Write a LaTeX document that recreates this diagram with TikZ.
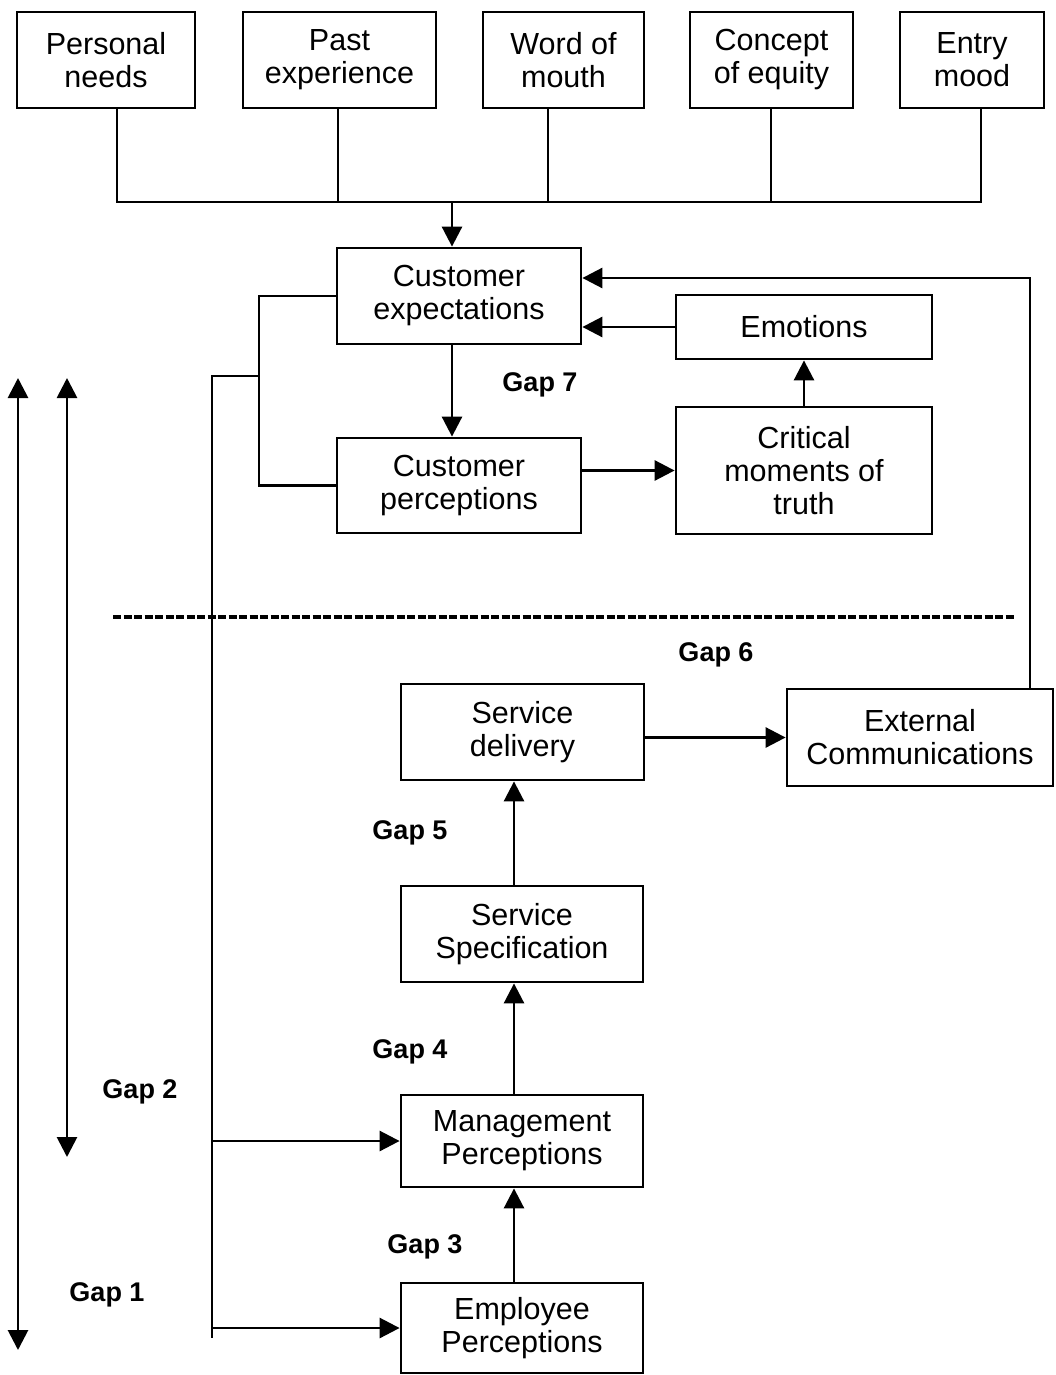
\documentclass[tikz,border=0pt]{standalone}
\usepackage{fontspec}
\setmainfont{Liberation Sans}
\usetikzlibrary{arrows.meta}
\tikzset{
  box/.style={draw, line width=2.8pt, align=center, inner sep=0pt,
    font=\fontsize{30.5}{33}\selectfont},
  link/.style={line width=2.8pt},
  arr/.style={line width=2.8pt, -{Triangle[length=20pt,width=20pt]}},
  darr/.style={line width=2.8pt, {Triangle[length=20pt,width=20pt]}-{Triangle[length=20pt,width=20pt]}},
  gap/.style={font=\fontsize{27}{30}\selectfont\bfseries, inner sep=0pt},
}
\begin{document}
\begin{tikzpicture}[x=1pt,y=-1pt]
\useasboundingbox (0,0) rectangle (1055,1375);

% antecedents of expectations
\node[box, minimum width=178pt, minimum height=96pt] (pn) at (106,60) {Personal\\needs};
\node[box, minimum width=193pt, minimum height=96pt] (pe) at (339.5,60) {Past\\experience};
\node[box, minimum width=161pt, minimum height=96pt] (wm) at (563.5,60) {Word of\\mouth};
\node[box, minimum width=163pt, minimum height=96pt] (ce) at (771.5,60) {Concept\\of equity};
\node[box, minimum width=144pt, minimum height=96pt] (en) at (972,60) {Entry\\mood};

% customer side
\node[box, minimum width=244pt, minimum height=96pt] (exp) at (459,296) {Customer\\expectations};
\node[box, minimum width=244pt, minimum height=95pt] (per) at (459,485.5) {Customer\\perceptions};
\node[box, minimum width=256pt, minimum height=64pt] (emo) at (804,327) {Emotions};
\node[box, minimum width=256pt, minimum height=127pt] (cmt) at (804,470.5) {Critical\\moments of\\truth};

% provider side
\node[box, minimum width=243pt, minimum height=96pt] (sd) at (522.5,732) {Service\\delivery};
\node[box, minimum width=266pt, minimum height=97pt] (ec) at (920,737.5) {External\\Communications};
\node[box, minimum width=242pt, minimum height=96pt] (ss) at (522,934) {Service\\Specification};
\node[box, minimum width=242pt, minimum height=92pt] (mp) at (522,1141) {Management\\Perceptions};
\node[box, minimum width=242pt, minimum height=90pt] (ep) at (522,1328) {Employee\\Perceptions};

% bus joining the five antecedents
\coordinate (b1) at (117,202);
\coordinate (b2) at (338,202);
\coordinate (b3) at (548,202);
\coordinate (b4) at (771,202);
\coordinate (b5) at (981,202);
\coordinate (bx) at (452,202);
\draw[link] (pn.south -| b1) -- (b1) -- (b5) -- (en.south -| b5);
\draw[link] (pe.south -| b2) -- (b2);
\draw[link] (wm.south -| b3) -- (b3);
\draw[link] (ce.south -| b4) -- (b4);
\draw[arr] (bx) -- (exp.north -| bx);

% expectations / perceptions loop
\coordinate (gx) at (452,0);
\draw[arr] (exp.south -| gx) -- (per.north -| gx);
\draw[arr] (per.east |- cmt.west) -- (cmt.west);
\draw[arr] (cmt.north) -- (emo.south);
\draw[arr] (emo.west) -- (exp.east |- emo.west);

% feedback from external communications
\coordinate (fb) at (1030,278);
\draw[arr] (ec.north -| fb) -- (fb) -- (exp.east |- fb);

% bracket and gap line down the left
\coordinate (brk) at (259,376);
\coordinate (gl) at (212,376);
\coordinate (glb) at (212,1338);
\draw[link] (exp.west) -| (brk) |- (per.west);
\draw[link] (brk) -- (gl) -- (glb);
\draw[arr] (gl |- mp.west) -- (mp.west);
\draw[arr] (gl |- ep.west) -- (ep.west);

% provider chain
\coordinate (cx) at (514,0);
\draw[arr] (ep.north -| cx) -- (mp.south -| cx);
\draw[arr] (mp.north -| cx) -- (ss.south -| cx);
\draw[arr] (ss.north -| cx) -- (sd.south -| cx);
\draw[arr] (sd.east |- ec.west) -- (ec.west);

% line of visibility
\coordinate (d1) at (113,617);
\coordinate (d2) at (1015,617);
\draw[line width=3.2pt, dash pattern=on 8pt off 2.5pt] (d1) -- (d2);

% gap 1 and gap 2 spans
\coordinate (g1t) at (18,378);
\coordinate (g1b) at (18,1350);
\coordinate (g2t) at (67,378);
\coordinate (g2b) at (67,1157);
\draw[darr] (g1t) -- (g1b);
\draw[darr] (g2t) -- (g2b);

% gap labels
\node[gap] (l7) at (540,385) {Gap 7};
\node[gap] (l6) at (716,655) {Gap 6};
\node[gap] (l5) at (410,833) {Gap 5};
\node[gap] (l4) at (410,1052) {Gap 4};
\node[gap] (l3) at (425,1247) {Gap 3};
\node[gap] (l2) at (140,1092) {Gap 2};
\node[gap] (l1) at (107,1295) {Gap 1};
\end{tikzpicture}
\end{document}
